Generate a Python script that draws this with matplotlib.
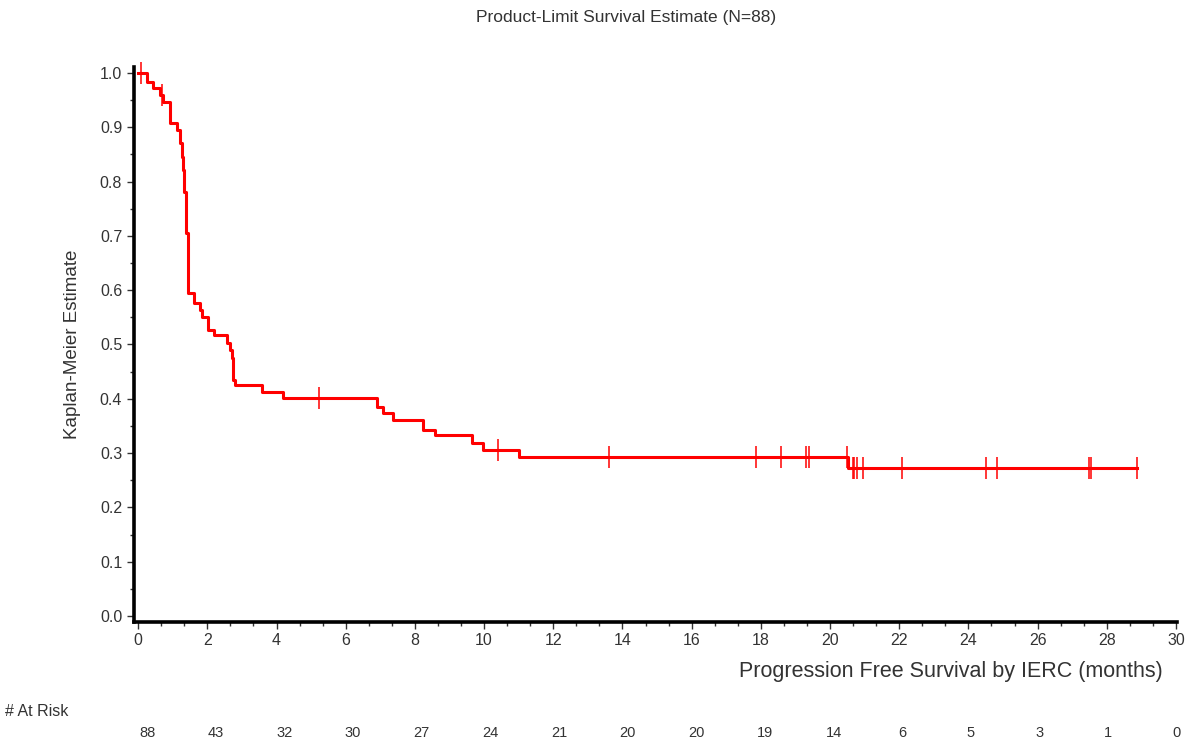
import numpy as np
import matplotlib
matplotlib.use("Agg")
import matplotlib.pyplot as plt
from matplotlib.ticker import MultipleLocator
from matplotlib.transforms import blended_transform_factory

plt.rcParams['font.family'] = ['Liberation Sans', 'DejaVu Sans']

# Kaplan-Meier step curve (time of drop, survival after drop)
step_times = [0, 0.25, 0.44, 0.64, 0.73, 0.92, 1.12, 1.21, 1.26, 1.31, 1.33, 1.39,
              1.43, 1.45, 1.60, 1.79, 1.85, 2.03, 2.18, 2.56, 2.66, 2.71, 2.75, 2.80,
              3.57, 4.20, 6.90, 7.09, 7.38, 8.23, 8.59, 9.64, 9.96, 11.02, 20.52, 28.88]
survival = [1.0, 0.984, 0.972, 0.959, 0.947, 0.907, 0.895, 0.871, 0.846, 0.821, 0.781,
            0.705, 0.628, 0.594, 0.576, 0.564, 0.551, 0.527, 0.517, 0.502, 0.490,
            0.475, 0.435, 0.425, 0.413, 0.401, 0.385, 0.373, 0.360, 0.343, 0.333,
            0.319, 0.306, 0.292, 0.272, 0.272]

# censored observations
censor_times = [0.08, 0.68, 5.24, 10.39, 13.61, 17.86, 18.58, 19.31, 19.40, 20.48,
                20.65, 20.70, 20.77, 20.96, 22.09, 24.51, 24.82, 27.49, 27.53, 28.88]

# number at risk table
risk_times = [0, 2, 4, 6, 8, 10, 12, 14, 16, 18, 20, 22, 24, 26, 28, 30]
at_risk = [88, 43, 32, 30, 27, 24, 21, 20, 20, 19, 14, 6, 5, 3, 1, 0]

fig = plt.figure(figsize=(11.89, 7.40), dpi=100)
ax = fig.add_axes([0.1127, 0.1595, 0.8772, 0.75])

red = '#ff0000'
ax.step(step_times, survival, where='post', color=red, lw=2.2, zorder=3)

idx = np.searchsorted(step_times, censor_times, side='right') - 1
censor_y = np.array(survival)[idx]
ax.plot(censor_times, censor_y, ls='none', marker='|', ms=15.5, mew=1.1,
        color=red, zorder=4, clip_on=False)

ax.set_xlim(-0.12, 30.03)
ax.set_ylim(-0.011, 1.011)

for s in ['top', 'right']:
    ax.spines[s].set_visible(False)
for s in ['left', 'bottom']:
    ax.spines[s].set_linewidth(2.6)

ax.xaxis.set_major_locator(MultipleLocator(2))
ax.xaxis.set_minor_locator(MultipleLocator(2 / 3))
ax.yaxis.set_major_locator(MultipleLocator(0.1))
ax.yaxis.set_minor_locator(MultipleLocator(0.05))
ax.yaxis.set_major_formatter(plt.FormatStrFormatter('%.1f'))

ax.tick_params(axis='both', which='major', length=5, width=1, labelsize=11.5,
               colors='#333333', labelcolor='#333333')
ax.tick_params(axis='both', which='minor', length=3, width=1, colors='#333333')
ax.tick_params(axis='x', pad=3)

ax.set_xlabel('Progression Free Survival by IERC (months)', fontsize=15.5,
              ha='right', va='center', color='#333333')
ax.xaxis.set_label_coords(0.9866, -0.09)
ax.set_ylabel('Kaplan-Meier Estimate', fontsize=13.5, va='center', color='#333333')
ax.yaxis.set_label_coords(-0.059, 0.5)

fig.text(0.5265, 0.977, 'Product-Limit Survival Estimate (N=88)', ha='center',
         va='center', fontsize=12.5, color='#333333')

trans = blended_transform_factory(ax.transData, fig.transFigure)
fig.text(0.004, 0.038, '# At Risk', ha='left', va='center', fontsize=11.5, color='#333333')
for t, n in zip(risk_times, at_risk):
    ax.text(0.26 + t * 0.9923, 0.0095, str(n), transform=trans, ha='center',
            va='center', fontsize=10.5, color='#333333', clip_on=False)

fig.savefig('out.png', dpi=100)
